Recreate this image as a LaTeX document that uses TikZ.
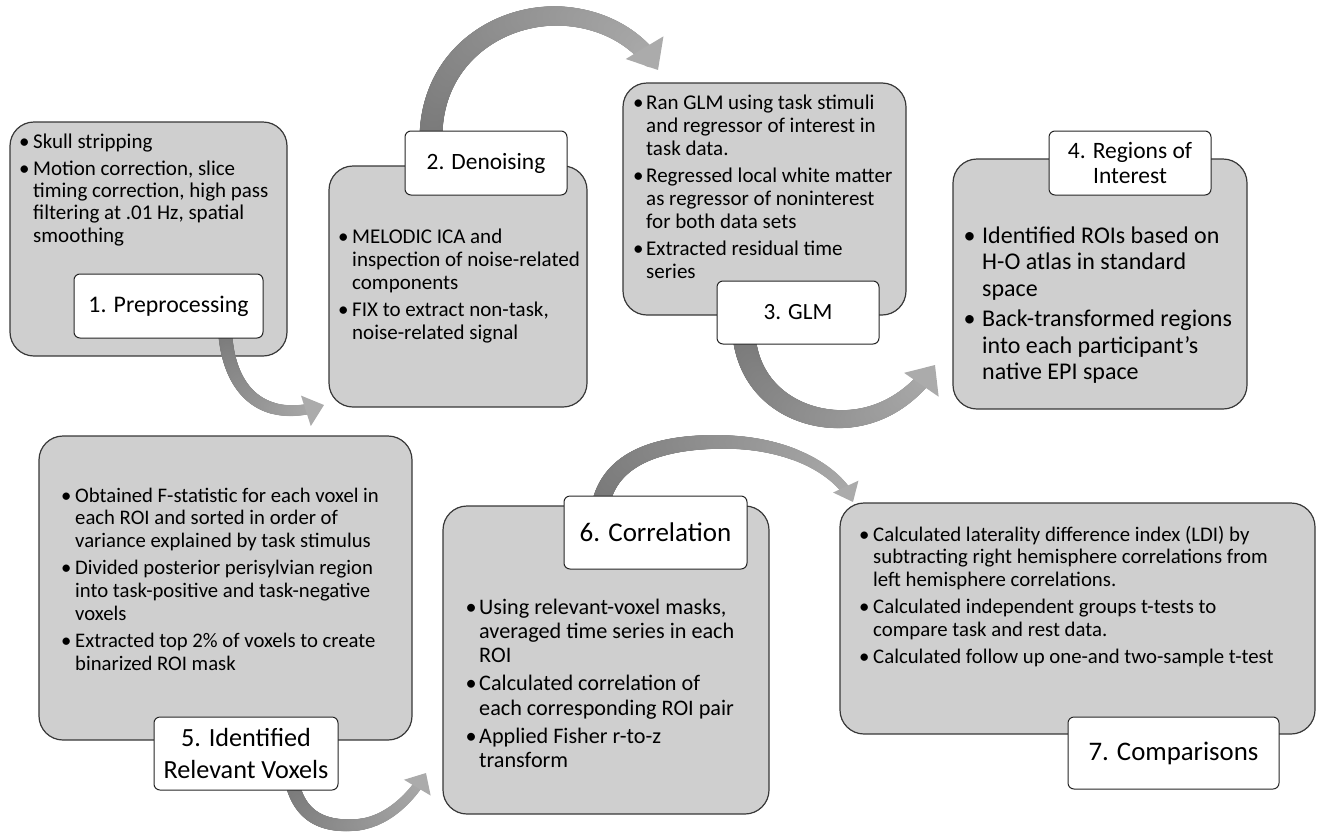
\documentclass[tikz,border=0pt]{standalone}
\usepackage{fontspec}
\setmainfont{Carlito}
\usetikzlibrary{arrows.meta,decorations.markings}
\newcommand{\bi}[1]{\makebox[#1pt][l]{\textbullet}}
\newcommand{\taper}[3]{%
  \pgfmathsetmacro\tpL{\pgfdecoratedpathlength}%
  \pgfmathsetmacro\tpD{\pgfkeysvalueof{/pgf/decoration/mark info/distance from start}}%
  \pgfmathsetmacro\tpF{\tpD/\tpL}%
  \pgfmathsetmacro\tpE{\tpL-0.6*#3}%
  \ifdim\tpD pt<\tpE pt\relax
    \pgfmathsetmacro\tpR{0.5*(#1-(#1-#2)*\tpF)}%
    \pgfmathsetmacro\tpC{53-20*\tpF}%
    \fill[black!\tpC] (0,0) circle[radius=\tpR pt];%
  \fi}
\tikzset{
  box/.style={draw=black!78, line width=1.2pt, fill=black!19, rounded corners=24pt, inner sep=0pt},
  lab/.style={draw=black!85, line width=1pt, fill=white, rounded corners=6pt, align=center, inner sep=0pt},
  btxt/.style={inner sep=0pt, anchor=base west, align=left},
  tarrow/.style n args={4}{
     postaction={decorate, decoration={markings,
       mark=between positions 0 and 1 step 0.6pt with {\taper{#1}{#2}{#4}}}},
     postaction={decorate, decoration={markings,
       mark=at position 0.9999 with {\fill[black!33] (0,0) -- (-#4pt,0.5*#3pt) -- (-#4pt,-0.5*#3pt) -- cycle;}}}},
}
\begin{document}
\begin{tikzpicture}[x=1pt,y=-1pt]
\useasboundingbox (0,0) rectangle (1323,833);
% boxes
\node[box, minimum width=277pt, minimum height=234pt] (b1) at (148.5,239) {};
\node[box, minimum width=258pt, minimum height=241pt] (b2) at (458,286.5) {};
\node[box, minimum width=283pt, minimum height=232pt] (b3) at (764.5,199) {};
\node[box, minimum width=294pt, minimum height=250pt] (b4) at (1100,284) {};
\node[box, minimum width=373pt, minimum height=304pt] (b5) at (225.5,588) {};
\node[box, minimum width=326pt, minimum height=308pt] (b6) at (606,660) {};
\node[box, minimum width=475pt, minimum height=231pt] (b7) at (1077.5,618.5) {};
% arrow coordinates
\coordinate (a12s) at (225,330);
\coordinate (a12e) at (324,405);
\coordinate (a23s) at (431,140);
\coordinate (a23m) at (560,16);
\coordinate (a23e) at (658,70);
\coordinate (a34s) at (744,336);
\coordinate (a34m) at (845,419);
\coordinate (a34e) at (935,365);
\coordinate (a56s) at (292,782);
\coordinate (a56m) at (355,825);
\coordinate (a56e) at (426,773);
\coordinate (a67s) at (601,503);
\coordinate (a67m) at (725,442);
\coordinate (a67e) at (853,502);
% arrows
\path[tarrow={14}{10}{32}{19}] (a12s) .. controls (228,390) and (262,425) .. (a12e);
\path[tarrow={23}{17}{44}{26}] (a23s) .. controls (430,60) and (495,14) .. (a23m) .. controls (605,18) and (640,40) .. (a23e);
\path[tarrow={23}{14}{42}{24}] (a34s) .. controls (750,395) and (800,421) .. (a34m) .. controls (885,417) and (915,394) .. (a34e);
\path[tarrow={14}{9}{31}{17}] (a56s) .. controls (300,818) and (325,827) .. (a56m) .. controls (385,823) and (410,800) .. (a56e);
\path[tarrow={18}{9}{28}{17}] (a67s) .. controls (612,455) and (665,441) .. (a67m) .. controls (790,443) and (838,470) .. (a67e);
% labels
\node[lab, minimum width=189pt, minimum height=64pt, font=\fontsize{23.8}{26}\selectfont] (l1) at (168.5,306) {1. Preprocessing};
\node[lab, minimum width=162pt, minimum height=64pt, font=\fontsize{23.4}{26}\selectfont] (l2) at (486,163) {2. Denoising};
\node[lab, minimum width=162pt, minimum height=63pt, font=\fontsize{23.2}{26}\selectfont] (l3) at (798,312.5) {3. GLM};
\node[lab, minimum width=162pt, minimum height=64pt, font=\fontsize{23.5}{25}\selectfont] (l4) at (1130,163) {4. Regions of\\Interest};
\node[lab, minimum width=184pt, minimum height=73pt, font=\fontsize{26.2}{31.7}\selectfont] (l5) at (246,753.5) {5. Identified\\Relevant Voxels};
\node[lab, minimum width=183pt, minimum height=73pt, font=\fontsize{27}{30}\selectfont] (l6) at (655.5,532.5) {6. Correlation};
\node[lab, minimum width=211pt, minimum height=72pt, font=\fontsize{26.8}{30}\selectfont] (l7) at (1173.5,753) {7. Comparisons};
% texts
\node[btxt, font=\fontsize{21}{22.3}\selectfont] (t1) at (19,148) {\begin{tabular}[t]{@{}l@{}l@{}}
\bi{14} & Skull stripping\\[5pt]
\bi{14} & Motion correction, slice\\
 & timing correction, high pass\\
 & filtering at .01 Hz, spatial\\
 & smoothing
\end{tabular}};
\node[btxt, font=\fontsize{21}{23}\selectfont] (t2) at (338,243) {\begin{tabular}[t]{@{}l@{}l@{}}
\bi{14} & MELODIC ICA and\\
 & inspection of noise-related\\
 & components\\[4.3pt]
\bi{14} & FIX to extract non-task,\\
 & noise-related signal
\end{tabular}};
\node[btxt, font=\fontsize{21}{23.3}\selectfont] (t3) at (633,109) {\begin{tabular}[t]{@{}l@{}l@{}}
\bi{13} & Ran GLM using task stimuli\\
 & and regressor of interest in\\
 & task data.\\[3.4pt]
\bi{13} & Regressed local white matter\\
 & as regressor of noninterest\\
 & for both data sets\\[3.4pt]
\bi{13} & Extracted residual time\\
 & series
\end{tabular}};
\node[btxt, font=\fontsize{24}{26.7}\selectfont] (t4) at (963.5,243) {\begin{tabular}[t]{@{}l@{}l@{}}
\bi{18.5} & Identified ROIs based on\\
 & H-O atlas in standard\\
 & space\\[3.3pt]
\bi{18.5} & Back-transformed regions\\
 & into each participant’s\\
 & native EPI space
\end{tabular}};
\node[btxt, font=\fontsize{20.7}{22.8}\selectfont] (t5) at (61,502) {\begin{tabular}[t]{@{}l@{}l@{}}
\bi{14} & Obtained F-statistic for each voxel in\\
 & each ROI and sorted in order of\\
 & variance explained by task stimulus\\[4.5pt]
\bi{14} & Divided posterior perisylvian region\\
 & into task-positive and task-negative\\
 & voxels\\[4.5pt]
\bi{14} & Extracted top 2\% of voxels to create\\
 & binarized ROI mask
\end{tabular}};
\node[btxt, font=\fontsize{22.2}{24.2}\selectfont] (t6) at (465.5,614) {\begin{tabular}[t]{@{}l@{}l@{}}
\bi{13.5} & Using relevant-voxel masks,\\
 & averaged time series in each\\
 & ROI\\[4.3pt]
\bi{13.5} & Calculated correlation of\\
 & each corresponding ROI pair\\[4.3pt]
\bi{13.5} & Applied Fisher r-to-z\\
 & transform
\end{tabular}};
\node[btxt, font=\fontsize{20.8}{22.5}\selectfont] (t7) at (859,541) {\begin{tabular}[t]{@{}l@{}l@{}}
\bi{14} & Calculated laterality difference index (LDI) by\\
 & subtracting right hemisphere correlations from\\
 & left hemisphere correlations.\\[5pt]
\bi{14} & Calculated independent groups t-tests to\\
 & compare task and rest data.\\[5pt]
\bi{14} & Calculated follow up one-and two-sample t-test
\end{tabular}};
\end{tikzpicture}
\end{document}
